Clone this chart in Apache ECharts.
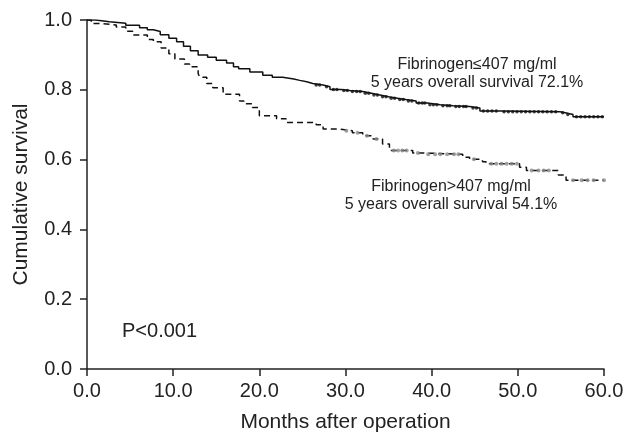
<!DOCTYPE html>
<html>
<head>
<meta charset="utf-8">
<script src="https://cdn.jsdelivr.net/npm/echarts@6/dist/echarts.min.js"></script>
<style>html,body{margin:0;padding:0;background:#fff}#c{width:628px;height:438px}</style>
</head>
<body>
<div id="c"></div>
<script>
// Group 1: Fibrinogen <= 407 (solid) — event times and survival after each drop
var lowTimes = [0, 1.0, 2.6, 4.5, 6.1, 7.0, 7.7, 8.5, 9.5, 10.4, 11.2, 12.0, 12.9, 14.0, 15.0, 16.2, 17.0, 17.6, 18.9, 20.4, 21.5, 22.7, 24.0, 24.7, 25.5, 26.2, 27.4, 28.2, 29.5, 30.5, 32.0, 33.0, 34.0, 35.0, 36.0, 37.0, 38.2, 39.5, 41.0, 42.5, 44.4, 45.6, 48.0, 54.9, 55.5, 56.4, 60.0];
var lowSurv  = [1.0, 0.995, 0.991, 0.985, 0.978, 0.972, 0.967, 0.958, 0.948, 0.938, 0.925, 0.912, 0.900, 0.893, 0.885, 0.877, 0.866, 0.860, 0.851, 0.842, 0.836, 0.831, 0.827, 0.823, 0.818, 0.814, 0.809, 0.801, 0.798, 0.795, 0.790, 0.785, 0.780, 0.776, 0.772, 0.768, 0.762, 0.757, 0.754, 0.752, 0.748, 0.739, 0.737, 0.734, 0.729, 0.723, 0.723];
// censored observation times, group 1
var lowCensor = [26.6, 27.0, 27.8, 28.6, 29.0, 29.8, 30.2, 30.8, 31.3, 31.7, 32.3, 32.7, 33.3, 33.7, 34.3, 34.7, 35.3, 35.7, 36.3, 36.7, 37.3, 37.7, 38.5, 38.9, 39.2, 39.8, 40.2, 40.6, 41.3, 41.8, 42.1, 42.8, 43.2, 43.7, 44.0, 44.8, 45.2, 46.0, 46.5, 47.0, 47.5, 48.4, 48.9, 49.4, 49.9, 50.4, 50.9, 51.4, 51.9, 52.4, 52.9, 53.4, 53.9, 54.4, 55.2, 55.8, 56.8, 57.3, 57.8, 58.3, 58.8, 59.3, 59.8];

// Group 2: Fibrinogen > 407 (dashed)
var highTimes = [0, 0.5, 1.5, 3.4, 4.5, 5.3, 7.0, 7.7, 8.6, 9.5, 10.2, 11.3, 11.9, 12.9, 13.1, 13.9, 14.6, 15.8, 17.7, 18.2, 19.2, 20.0, 22.0, 23.1, 26.6, 27.4, 29.1, 30.8, 32.0, 33.2, 34.3, 35.1, 37.8, 39.0, 43.6, 44.4, 45.9, 46.3, 50.2, 51.0, 54.7, 55.6, 60.0];
var highSurv  = [1.0, 0.990, 0.986, 0.980, 0.968, 0.957, 0.944, 0.938, 0.920, 0.903, 0.888, 0.874, 0.866, 0.846, 0.836, 0.818, 0.806, 0.787, 0.768, 0.760, 0.749, 0.726, 0.717, 0.706, 0.700, 0.688, 0.683, 0.677, 0.668, 0.659, 0.645, 0.626, 0.619, 0.615, 0.607, 0.601, 0.594, 0.588, 0.578, 0.569, 0.556, 0.541, 0.541];
var highCensor = [30.1, 31.4, 32.5, 33.6, 35.6, 36.1, 36.6, 37.1, 38.4, 39.6, 40.4, 41.0, 41.8, 42.6, 43.1, 44.9, 46.9, 47.5, 48.1, 48.7, 49.3, 49.9, 51.6, 52.4, 53.0, 53.6, 56.4, 57.4, 58.1, 58.8, 60.0];

var yTicks = ['0.0', '0.2', '0.4', '0.6', '0.8', '1.0'];
var xTicks = ['0.0', '10.0', '20.0', '30.0', '40.0', '50.0', '60.0'];

function pairs(t, s) { return t.map(function (v, i) { return [v, s[i]]; }); }
function stepAt(t, times, surv) {
  var v = surv[0];
  for (var i = 0; i < times.length; i++) { if (times[i] <= t) v = surv[i]; }
  return v;
}
function censorPts(c, times, surv) { return c.map(function (t) { return [t, stepAt(t, times, surv)]; }); }

var FONT = 'Liberation Sans, Arial, sans-serif';
var TXT = '#222';
var chart = echarts.init(document.getElementById('c'), null, { renderer: 'canvas' });
chart.setOption({
  animation: false,
  backgroundColor: '#fff',
  grid: { left: 87, right: 24, top: 20, bottom: 66 },
  xAxis: {
    type: 'value', min: 0, max: 60, interval: 10,
    name: 'Months after operation', nameLocation: 'middle', nameGap: 43,
    nameTextStyle: { fontFamily: FONT, fontSize: 21, color: TXT },
    axisLine: { lineStyle: { color: '#222', width: 1.5 } },
    axisTick: { show: true, length: 7, lineStyle: { color: '#222', width: 1.5 } },
    axisLabel: { fontFamily: FONT, fontSize: 20, color: TXT, margin: 12,
      formatter: function (v) { return xTicks[Math.round(v / 10)]; } },
    splitLine: { show: false }
  },
  yAxis: {
    type: 'value', min: 0, max: 1, interval: 0.2,
    name: 'Cumulative survival', nameLocation: 'middle', nameGap: 55,
    nameTextStyle: { fontFamily: FONT, fontSize: 21, color: TXT },
    axisLine: { show: true, lineStyle: { color: '#222', width: 1.5 } },
    axisTick: { show: true, length: 7, lineStyle: { color: '#222', width: 1.5 } },
    axisLabel: { fontFamily: FONT, fontSize: 20, color: TXT, margin: 15,
      formatter: function (v) { return yTicks[Math.round(v * 5)]; } },
    splitLine: { show: false }
  },
  series: [
    { type: 'line', step: 'end', showSymbol: false, data: pairs(lowTimes, lowSurv),
      lineStyle: { color: '#111', width: 1.5 }, z: 3 },
    { type: 'line', step: 'end', showSymbol: false, data: pairs(highTimes, highSurv),
      lineStyle: { color: '#111', width: 1.5, type: [6, 4] }, z: 3 },
    { type: 'scatter', symbol: 'circle', symbolSize: 3.5, data: censorPts(lowCensor, lowTimes, lowSurv),
      itemStyle: { color: '#111' }, z: 4 },
    { type: 'scatter', symbol: 'circle', symbolSize: 4, data: censorPts(highCensor, highTimes, highSurv),
      itemStyle: { color: '#888' }, z: 4 }
  ],
  graphic: [
    { type: 'text', x: 477, y: 57, style: { text: 'Fibrinogen≤407 mg/ml', font: '16px ' + FONT, fill: TXT, textAlign: 'center' } },
    { type: 'text', x: 477, y: 75, style: { text: '5 years overall survival 72.1%', font: '16px ' + FONT, fill: TXT, textAlign: 'center' } },
    { type: 'text', x: 451, y: 179, style: { text: 'Fibrinogen>407 mg/ml', font: '16px ' + FONT, fill: TXT, textAlign: 'center' } },
    { type: 'text', x: 451, y: 197, style: { text: '5 years overall survival 54.1%', font: '16px ' + FONT, fill: TXT, textAlign: 'center' } },
    { type: 'text', x: 122, y: 321, style: { text: 'P<0.001', font: '20px ' + FONT, fill: TXT } }
  ]
});
</script>
</body>
</html>
